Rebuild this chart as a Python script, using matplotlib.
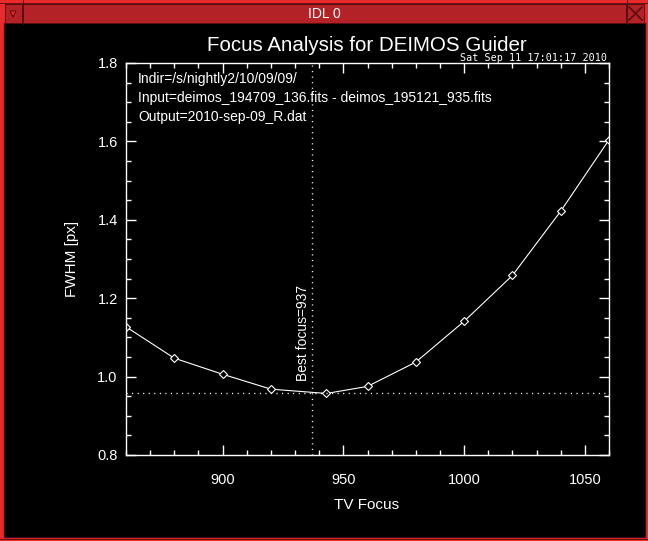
import matplotlib
matplotlib.use("Agg")
import matplotlib.pyplot as plt
from matplotlib.patches import Rectangle, Polygon
from matplotlib.ticker import MultipleLocator

# focus scan
tv_focus = [860, 880, 900, 920, 943, 960, 980, 1000, 1020, 1040, 1060]
fwhm = [1.127, 1.047, 1.006, 0.968, 0.957, 0.975, 1.037, 1.141, 1.258, 1.422, 1.604]
best_focus = 937
best_fwhm = 0.957

x_ticks = [900, 950, 1000, 1050]
y_ticks = [0.8, 1.0, 1.2, 1.4, 1.6, 1.8]

info_lines = [
    "Indir=/s/nightly2/10/09/09/",
    "Input=deimos_194709_136.fits - deimos_195121_935.fits",
    "Output=2010-sep-09_R.dat",
]
stamp = "Sat Sep 11 17:01:17 2010"

W, H = 648, 541
plt.rcParams['font.family'] = ['Liberation Sans', 'DejaVu Sans']
plt.rcParams['lines.scale_dashes'] = False

fig = plt.figure(figsize=(W / 100, H / 100), dpi=100, facecolor='black')


def fx(px):
    return px / W


def fy(py):
    return 1 - py / H


# --- window frame (X11 style) ---
frame = fig.add_axes([0, 0, 1, 1], zorder=-5)
frame.set_xlim(0, W)
frame.set_ylim(H, 0)
frame.axis('off')
bright = '#e82a2d'
bar = '#b22226'
dark = '#5a0c0e'
frame.add_patch(Rectangle((0, 0), W, H, color=bright))
frame.add_patch(Rectangle((4, 23), 641, 514, color=dark))
frame.add_patch(Rectangle((5, 24), 639, 512, color='black'))
frame.add_patch(Rectangle((5, 4), 17, 19, facecolor=bar, edgecolor=dark, lw=0.7))
frame.add_patch(Rectangle((23, 4), 603, 19, facecolor=bar, edgecolor=dark, lw=0.7))
frame.add_patch(Rectangle((627, 4), 17, 19, facecolor=bar, edgecolor=dark, lw=0.7))
frame.add_patch(Polygon([(10, 11), (16, 11), (13, 17)], facecolor=bright,
                        edgecolor=dark, lw=0.7))
frame.plot([629, 642], [7, 20], color=dark, lw=1.2)
frame.plot([629, 642], [20, 7], color=dark, lw=1.2)
frame.plot([0, W], [2.5, 2.5], color=dark, lw=0.6)
frame.plot([22.5, 22.5], [0, 24], color=dark, lw=0.6)
frame.plot([626.5, 626.5], [0, 24], color=dark, lw=0.6)
frame.plot([0, W], [538.5, 538.5], color=dark, lw=0.6)
frame.text(324, 13.5, "IDL 0", color='white', fontsize=10, ha='center', va='center')

# --- plot ---
ax = fig.add_axes([fx(126), fy(455), fx(609 - 126), (455 - 63) / H])
ax.set_facecolor('black')
for s in ax.spines.values():
    s.set_color('white')
    s.set_linewidth(1.0)

ax.plot(tv_focus, fwhm, color='white', lw=0.8, marker='D', ms=4.2,
        mfc='black', mec='white', mew=0.8, clip_on=True)
ax.axvline(best_focus, color='white', lw=1.0, dashes=(0.8, 3.2))
ax.axhline(best_fwhm, color='white', lw=1.0, dashes=(0.8, 3.2))
ax.annotate("Best focus=%d" % best_focus, (best_focus, 0.99), xytext=(-1.5, 0),
            textcoords='offset points', rotation=90, ha='right', va='bottom',
            color='white', fontsize=10)

ax.set_xlim(860, 1060)
ax.set_ylim(0.8, 1.8)
ax.set_xticks(x_ticks)
ax.set_yticks(y_ticks)
ax.set_yticklabels(["%.1f" % v for v in y_ticks])
ax.xaxis.set_minor_locator(MultipleLocator(10))
ax.yaxis.set_minor_locator(MultipleLocator(0.05))
ax.tick_params(which='both', direction='in', colors='white', top=True, right=True,
               width=1.0)
ax.tick_params(which='major', length=7.2)
ax.tick_params(which='minor', length=3.6)
ax.tick_params(axis='x', which='major', pad=13, labelsize=10.5)
ax.tick_params(axis='y', which='major', pad=6, labelsize=10.5)

for i, line in enumerate(info_lines):
    fig.text(fx(138), fy(82.7 + 19 * i), line, color='white', fontsize=10,
             ha='left', va='baseline')

fig.text(fx(366.5), fy(50.7), "Focus Analysis for DEIMOS Guider", color='white',
         fontsize=14.8, ha='center', va='baseline')
fig.text(fx(607), fy(61), stamp, color='white', fontsize=7.3,
         family='DejaVu Sans Mono', ha='right', va='baseline')
fig.text(fx(367), fy(505), "TV Focus", color='white', fontsize=11,
         ha='center', va='center')
fig.text(fx(72), fy(259), "FWHM [px]", color='white', fontsize=11,
         rotation=90, ha='center', va='center')

fig.savefig("out.png", dpi=100, facecolor=fig.get_facecolor())
